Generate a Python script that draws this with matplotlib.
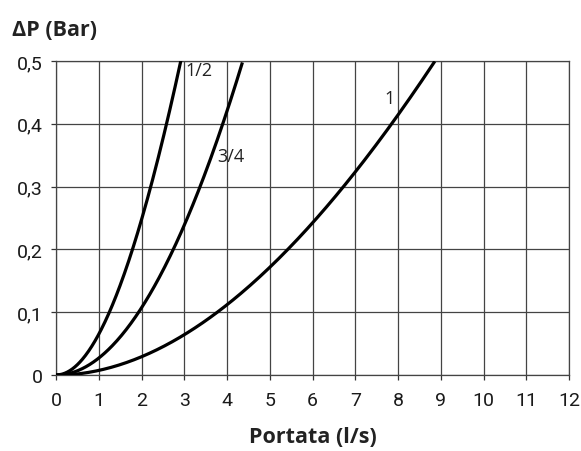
import numpy as np
import matplotlib.pyplot as plt

# flow (l/s) and pressure drop (bar)
q_half = [0, 0.3, 0.6, 1.0, 1.23, 1.5, 1.82, 2.19, 2.59, 2.92]
dp_half = [0, 0.006, 0.024, 0.065, 0.100, 0.142, 0.200, 0.300, 0.400, 0.500]

q_3q = [0, 0.5, 1.0, 1.5, 1.96, 2.70, 3.38, 3.92, 4.36]
dp_3q = [0, 0.007, 0.027, 0.060, 0.100, 0.200, 0.300, 0.400, 0.500]

q_one = [0, 1.0, 2.0, 3.0, 3.77, 4.6, 5.45, 6.1, 6.71, 7.3, 7.87, 8.86]
dp_one = [0, 0.007, 0.029, 0.064, 0.100, 0.148, 0.200, 0.250, 0.300, 0.350, 0.400, 0.500]

series = [(q_half, dp_half), (q_3q, dp_3q), (q_one, dp_one)]
labels = ["1/2", "3/4", "1"]
label_pos = [(3.02, 0.486), (3.78, 0.349), (7.68, 0.441)]

xticks = list(range(0, 13))
yticks = [0, 0.1, 0.2, 0.3, 0.4, 0.5]
ytick_labels = ["0", "0,1", "0,2", "0,3", "0,4", "0,5"]


def smooth(x, y, n=200):
    # least-squares cubic through the read points, just to draw a clean curve
    c = np.polyfit(x, y, 3)
    xs = np.linspace(min(x), max(x), n)
    ys = np.clip(np.polyval(c, xs), 0, None)
    return xs, ys


fig = plt.figure(figsize=(5.81, 4.52), dpi=100)
ax = fig.add_axes([0.0964, 0.168, 0.883, 0.695])

for (q, dp) in series:
    xs, ys = smooth(q, dp)
    ax.plot(xs, ys, color="black", lw=2.3, solid_capstyle="butt", zorder=3)

for lab, (lx, ly) in zip(labels, label_pos):
    ax.text(lx, ly, lab, fontsize=13, family="Open Sans", color="#222222",
            ha="left", va="center", zorder=4)

ax.set_xlim(0, 12)
ax.set_ylim(0, 0.5)
ax.set_xticks(xticks)
ax.set_yticks(yticks)
ax.set_yticklabels(ytick_labels)
ax.grid(True, color="#444444", lw=0.9)
ax.set_axisbelow(True)
for s in ax.spines.values():
    s.set_color("#444444")
    s.set_linewidth(0.9)
ax.tick_params(direction="out", length=3.5, width=0.9, color="#333333",
               labelsize=14)
ax.tick_params(axis="x", pad=8)
ax.tick_params(axis="y", pad=6)
for t in ax.get_xticklabels() + ax.get_yticklabels():
    t.set_family("Roboto")
    t.set_color("#1a1a1a")

fig.text(0.02, 0.933, "ΔP (Bar)", fontsize=15.5, fontweight="bold",
         family="Open Sans", color="#222222", va="center", ha="left")
ax.set_xlabel("Portata (l/s)", fontsize=15.5, fontweight="bold",
              family="Open Sans", color="#222222", labelpad=12)

fig.savefig("out.png", dpi=100)
